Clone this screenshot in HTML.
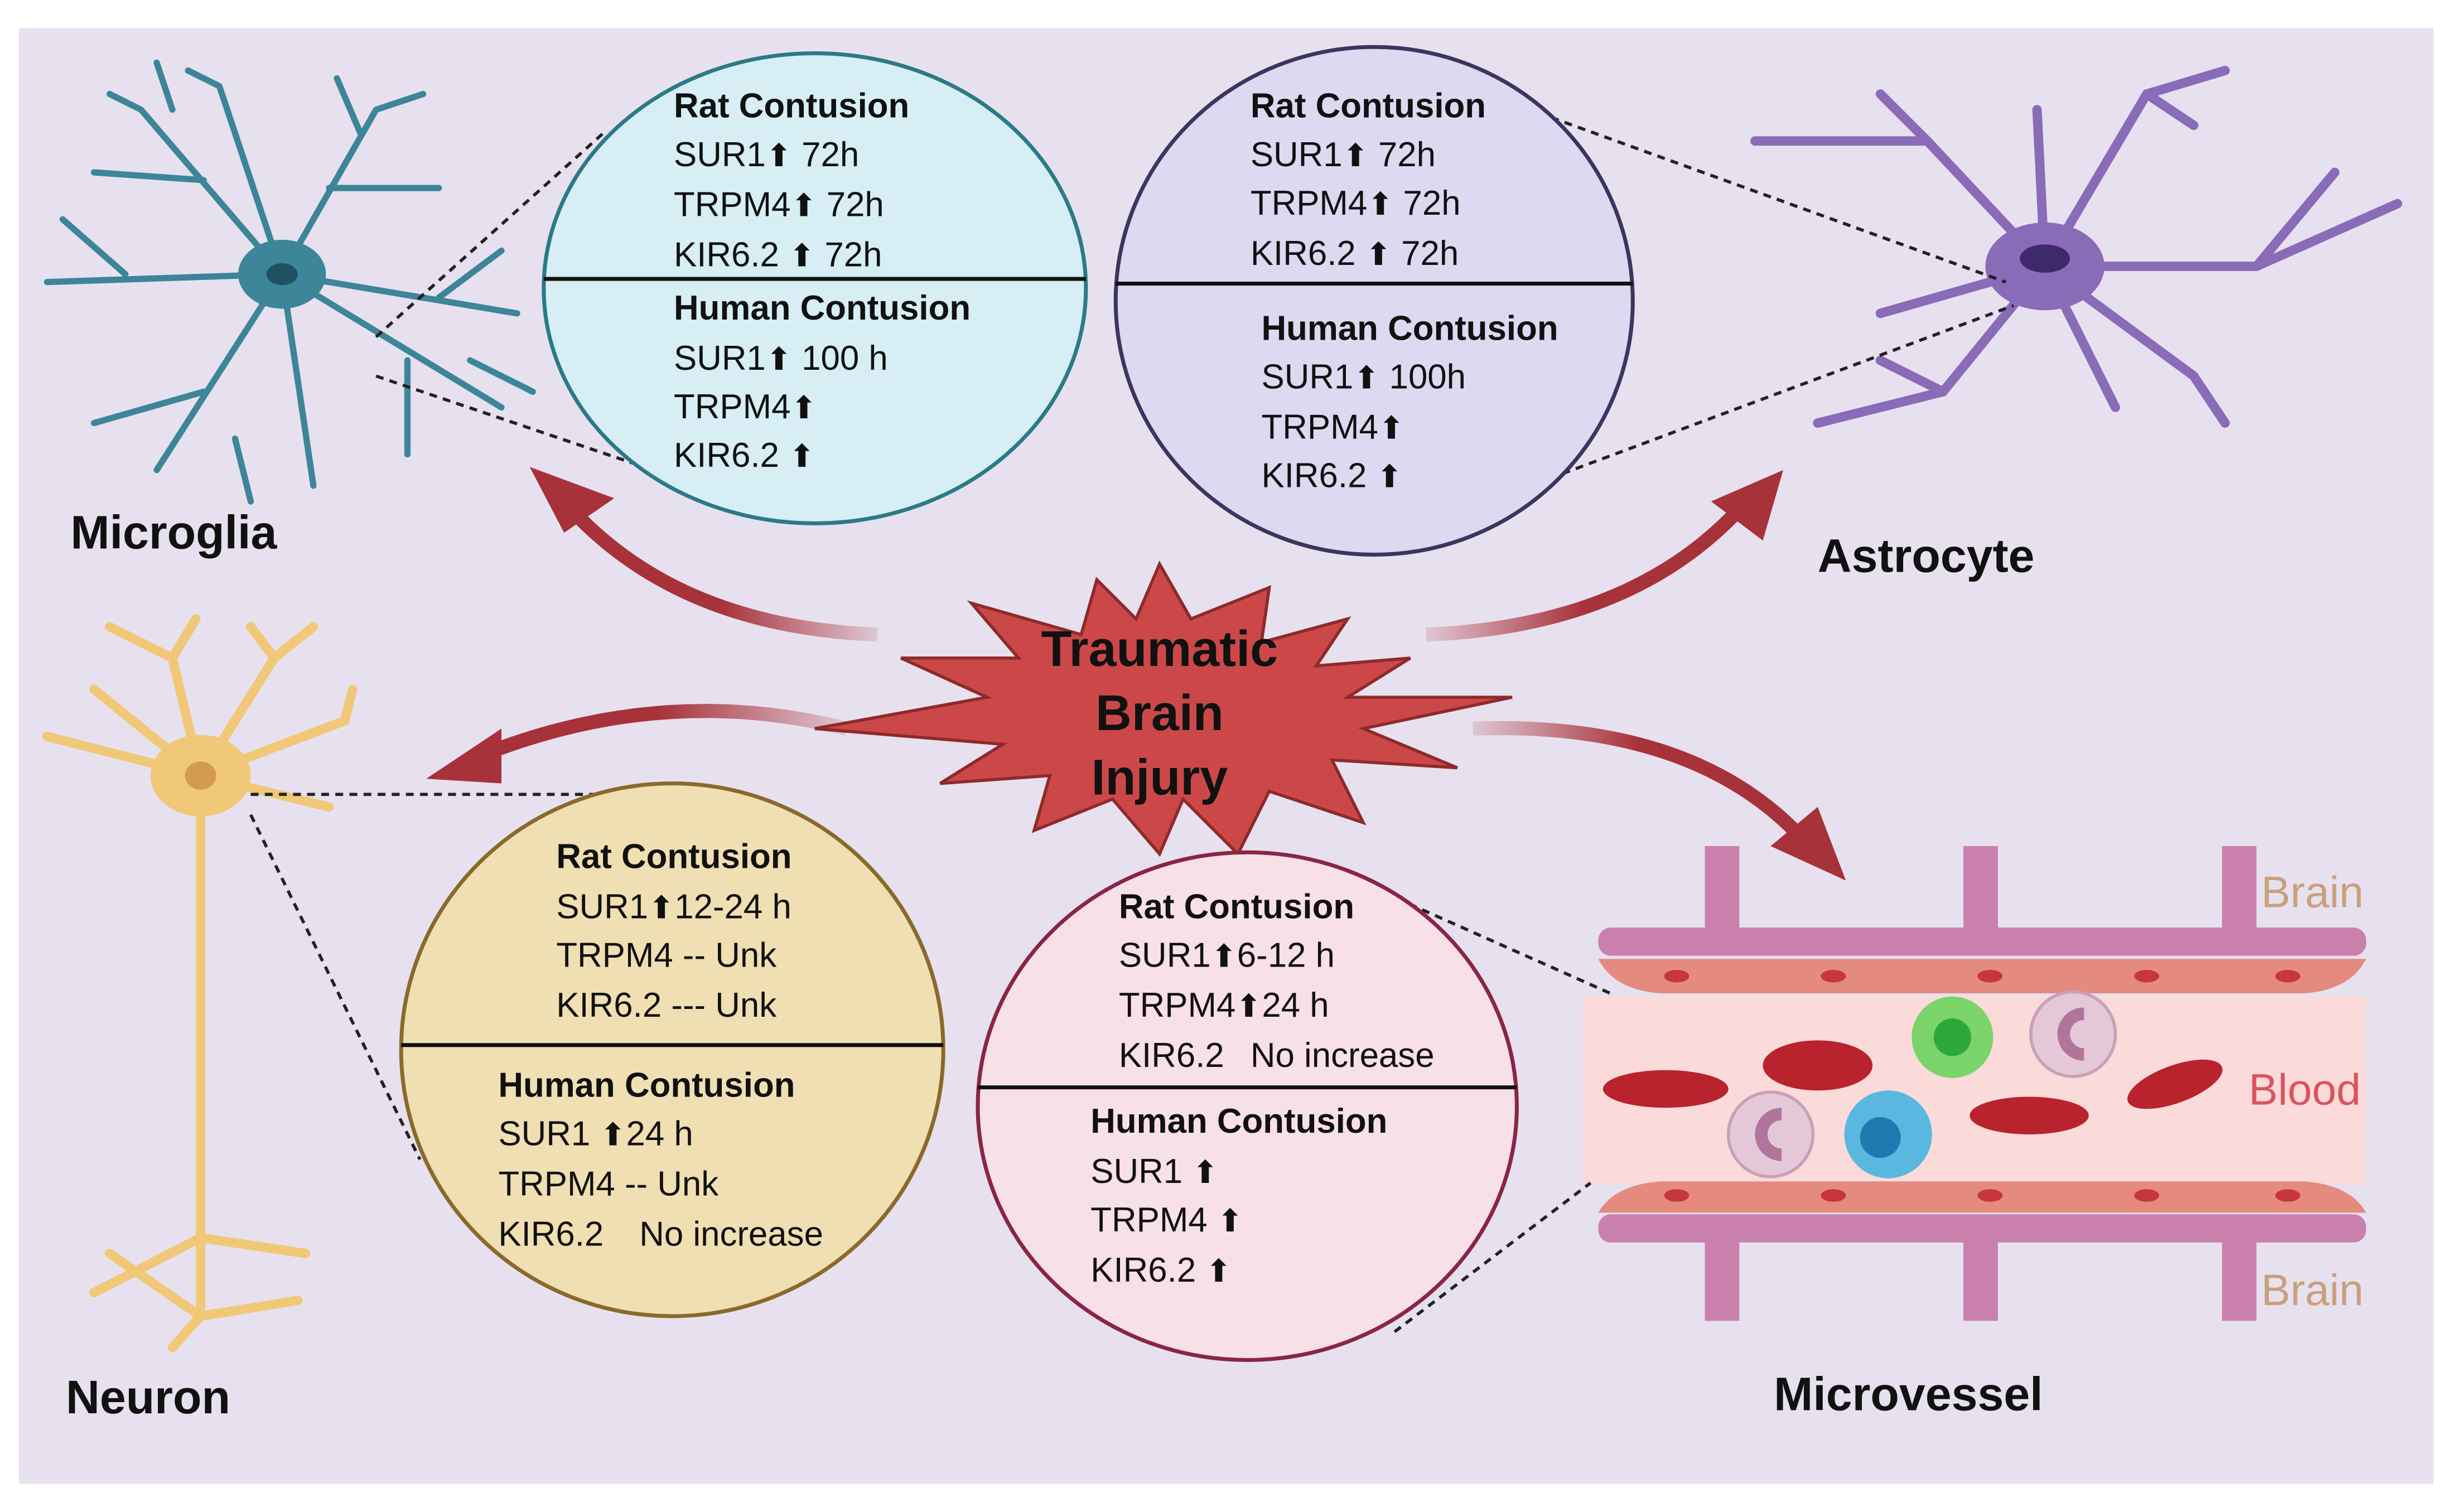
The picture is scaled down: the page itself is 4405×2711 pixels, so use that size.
<!DOCTYPE html>
<html><head><meta charset="utf-8"><style>
html,body{margin:0;padding:0;background:#fff;}
svg{display:block;}
text{font-family:"Liberation Sans",sans-serif;fill:#111;}
.t{font-size:22px;}
.h{font-size:22px;font-weight:bold;}
.lab{font-size:30px;font-weight:bold;}
.a{font-family:"DejaVu Sans",sans-serif;font-size:20px;}
</style></head><body>
<svg width="4405" height="2711" viewBox="0 0 1568 965" xmlns="http://www.w3.org/2000/svg">
<defs>
<linearGradient id="ga" x1="1" y1="0" x2="0" y2="0"><stop offset="0" stop-color="#a8323a" stop-opacity="0.15"/><stop offset="0.5" stop-color="#a8323a"/></linearGradient>
<linearGradient id="gb" x1="0" y1="0" x2="1" y2="0"><stop offset="0" stop-color="#a8323a" stop-opacity="0.15"/><stop offset="0.5" stop-color="#a8323a"/></linearGradient>
</defs>
<rect x="0" y="0" width="1568" height="965" fill="#fff"/>
<rect x="12" y="18" width="1541" height="929" fill="#e7e1ef"/>

<path d="M560 405 Q430 400 360 320" stroke="url(#ga)" stroke-width="9" fill="none"/>
<polygon points="338,298 392,318 360,340" fill="#a8323a"/>
<path d="M540 465 Q420 435 300 485" stroke="url(#ga)" stroke-width="9" fill="none"/>
<polygon points="272,497 320,465 320,500" fill="#a8323a"/>
<path d="M910 405 Q1040 400 1110 325" stroke="url(#gb)" stroke-width="9" fill="none"/>
<polygon points="1138,300 1125,345 1092,320" fill="#a8323a"/>
<path d="M940 465 Q1080 460 1150 535" stroke="url(#gb)" stroke-width="9" fill="none"/>
<polygon points="1178,562 1130,540 1160,515" fill="#a8323a"/>

<polygon points="740,360 760,395 810,375 805,410 860,395 840,425 900,420 860,445 965,445 870,465 930,490 850,485 870,525 810,505 790,545 755,510 740,545 710,510 660,530 670,495 600,500 640,475 520,465 630,445 575,420 650,420 620,385 690,405 700,370 725,395" fill="#cc4848" stroke="#8e2a2a" stroke-width="2"/>
<text x="740" y="425" text-anchor="middle" style="font-size:32px;font-weight:bold">Traumatic</text>
<text x="740" y="466" text-anchor="middle" style="font-size:32px;font-weight:bold">Brain</text>
<text x="740" y="507" text-anchor="middle" style="font-size:32px;font-weight:bold">Injury</text>

<g stroke="#3d8598" stroke-width="4" fill="none" stroke-linecap="round">
<path d="M180 175 L90 70 M130 115 L60 110 M90 70 L70 60 M180 175 L140 55 M140 55 L120 45 M180 175 L240 70 M240 70 L270 60 M210 120 L280 120 M180 175 L330 200 M280 190 L320 160 M180 175 L320 260 M260 230 L260 290 M180 175 L200 310 M180 175 L100 300 M130 250 L60 270 M180 175 L30 180 M80 175 L40 140 M110 70 L100 40 M230 85 L215 50 M300 230 L340 250 M150 280 L160 320"/>
</g>
<ellipse cx="180" cy="175" rx="28" ry="22" fill="#3d8598"/>
<ellipse cx="180" cy="175" rx="10" ry="7" fill="#1e5260"/>
<text x="45" y="350" class="lab">Microglia</text>
<path d="M240 215 L385 85 M240 240 L470 318" stroke="#222" stroke-width="2" stroke-dasharray="5,4"/>

<g stroke="#8a6bb8" stroke-width="6" fill="none" stroke-linecap="round">
<path d="M1305 170 L1230 90 L1200 60 M1230 90 L1120 90 M1305 170 L1300 70 M1305 170 L1370 60 L1420 45 M1370 60 L1400 80 M1305 170 L1440 170 L1530 130 M1440 170 L1490 110 M1305 170 L1400 240 L1420 270 M1305 170 L1350 260 M1305 170 L1240 250 L1160 270 M1240 250 L1200 230 M1305 170 L1200 200"/>
</g>
<ellipse cx="1305" cy="170" rx="38" ry="28" fill="#8a6bb8"/>
<ellipse cx="1305" cy="165" rx="16" ry="9" fill="#3e2a6a"/>
<text x="1160" y="365" class="lab">Astrocyte</text>
<path d="M990 75 L1280 180 M955 318 L1285 195" stroke="#222" stroke-width="2" stroke-dasharray="5,4"/>

<g stroke="#f0c878" stroke-width="6" fill="none" stroke-linecap="round">
<path d="M128 495 L128 840 M128 840 L70 800 M128 840 L190 830 M128 840 L110 860 M128 790 L60 825 M128 790 L195 800 M128 495 L110 420 L70 400 M110 420 L125 395 M128 495 L175 420 L200 400 M175 420 L160 400 M128 495 L30 470 M128 495 L60 440 M128 495 L220 460 L225 440 M128 495 L210 515"/>
</g>
<ellipse cx="128" cy="495" rx="32" ry="26" fill="#f0c878"/>
<ellipse cx="128" cy="495" rx="10" ry="9" fill="#d49a50"/>
<text x="42" y="902" class="lab">Neuron</text>
<path d="M160 507 L420 507 M160 520 L268 740" stroke="#222" stroke-width="2" stroke-dasharray="5,4"/>

<g fill="#c980ad">
<rect x="1088" y="540" width="22" height="60"/><rect x="1253" y="540" width="22" height="60"/><rect x="1418" y="540" width="22" height="60"/>
<rect x="1020" y="592" width="490" height="18" rx="8"/>
<rect x="1088" y="785" width="22" height="58"/><rect x="1253" y="785" width="22" height="58"/><rect x="1418" y="785" width="22" height="58"/>
<rect x="1020" y="775" width="490" height="18" rx="8"/>
</g>
<rect x="1010" y="636" width="500" height="120" fill="#fbdada"/>
<g fill="#e58a7f">
<path d="M1020 612 H1510 Q1500 632 1470 634 H1060 Q1030 632 1020 612Z"/>
<path d="M1020 774 H1510 Q1500 756 1470 754 H1060 Q1030 756 1020 774Z"/>
</g>
<g fill="#c7353e">
<ellipse cx="1070" cy="623" rx="8" ry="4"/><ellipse cx="1170" cy="623" rx="8" ry="4"/><ellipse cx="1270" cy="623" rx="8" ry="4"/><ellipse cx="1370" cy="623" rx="8" ry="4"/><ellipse cx="1460" cy="623" rx="8" ry="4"/>
<ellipse cx="1070" cy="763" rx="8" ry="4"/><ellipse cx="1170" cy="763" rx="8" ry="4"/><ellipse cx="1270" cy="763" rx="8" ry="4"/><ellipse cx="1370" cy="763" rx="8" ry="4"/><ellipse cx="1460" cy="763" rx="8" ry="4"/>
</g>
<g fill="#b8232e">
<ellipse cx="1063" cy="695" rx="40" ry="12"/><ellipse cx="1160" cy="680" rx="35" ry="16"/><ellipse cx="1295" cy="712" rx="38" ry="12"/><ellipse cx="1388" cy="692" rx="32" ry="12" transform="rotate(-20 1388 692)"/>
</g>
<circle cx="1246" cy="662" r="26" fill="#7ad46a"/><circle cx="1246" cy="662" r="12" fill="#2ea83c"/>
<circle cx="1323" cy="660" r="27" fill="#e4c8d8" stroke="#c9a0b8" stroke-width="2"/><path d="M1330 647 a12 12 0 1 0 0 26" stroke="#b0759a" stroke-width="8" fill="none"/>
<circle cx="1130" cy="724" r="27" fill="#e4c8d8" stroke="#c9a0b8" stroke-width="2"/><path d="M1137 711 a12 12 0 1 0 0 26" stroke="#b0759a" stroke-width="8" fill="none"/>
<circle cx="1205" cy="724" r="28" fill="#5ab8e0"/><circle cx="1200" cy="726" r="13" fill="#1f78b0"/>
<text x="1443" y="579" style="font-size:28px;fill:#c9a07a">Brain</text>
<text x="1435" y="705" style="font-size:28px;fill:#d9555f">Blood</text>
<text x="1443" y="833" style="font-size:28px;fill:#c9a07a">Brain</text>
<text x="1132" y="900" class="lab">Microvessel</text>
<path d="M850 555 L1030 635 M890 850 L1015 755" stroke="#222" stroke-width="2" stroke-dasharray="5,4"/>

<ellipse cx="520" cy="184" rx="173" ry="150" fill="#d6eef4" stroke="#2b7a86" stroke-width="2.5"/>
<line x1="347" y1="178" x2="693" y2="178" stroke="#111" stroke-width="2.5"/>
<text x="430" y="75" class="h">Rat Contusion</text>
<text x="430" y="106" class="t">SUR1<tspan class="a">⬆</tspan> 72h</text>
<text x="430" y="138" class="t">TRPM4<tspan class="a">⬆</tspan> 72h</text>
<text x="430" y="170" class="t">KIR6.2 <tspan class="a">⬆</tspan>  72h</text>
<text x="430" y="204" class="h">Human Contusion</text>
<text x="430" y="236" class="t">SUR1<tspan class="a">⬆</tspan> 100 h</text>
<text x="430" y="267" class="t">TRPM4<tspan class="a">⬆</tspan></text>
<text x="430" y="298" class="t">KIR6.2 <tspan class="a">⬆</tspan></text>

<ellipse cx="877" cy="192" rx="165" ry="162" fill="#dcd9f0" stroke="#3c3560" stroke-width="2.5"/>
<line x1="712" y1="181" x2="1042" y2="181" stroke="#111" stroke-width="2.5"/>
<text x="798" y="75" class="h">Rat Contusion</text>
<text x="798" y="106" class="t">SUR1<tspan class="a">⬆</tspan> 72h</text>
<text x="798" y="137" class="t">TRPM4<tspan class="a">⬆</tspan> 72h</text>
<text x="798" y="169" class="t">KIR6.2 <tspan class="a">⬆</tspan> 72h</text>
<text x="805" y="217" class="h">Human Contusion</text>
<text x="805" y="248" class="t">SUR1<tspan class="a">⬆</tspan> 100h</text>
<text x="805" y="280" class="t">TRPM4<tspan class="a">⬆</tspan></text>
<text x="805" y="311" class="t">KIR6.2 <tspan class="a">⬆</tspan></text>

<ellipse cx="429" cy="670" rx="173" ry="170" fill="#efdfb2" stroke="#8a6a2a" stroke-width="2.5"/>
<line x1="256" y1="667" x2="602" y2="667" stroke="#111" stroke-width="2.5"/>
<text x="355" y="554" class="h">Rat Contusion</text>
<text x="355" y="586" class="t">SUR1<tspan class="a">⬆</tspan>12-24 h</text>
<text x="355" y="617" class="t">TRPM4 -- Unk</text>
<text x="355" y="649" class="t">KIR6.2 --- Unk</text>
<text x="318" y="700" class="h">Human  Contusion</text>
<text x="318" y="731" class="t">SUR1 <tspan class="a">⬆</tspan>24 h</text>
<text x="318" y="763" class="t">TRPM4 -- Unk</text>
<text x="318" y="795" class="t">KIR6.2 <tspan x="408">No increase</tspan></text>

<ellipse cx="796" cy="706" rx="172" ry="162" fill="#f7e0e7" stroke="#8a2545" stroke-width="2.5"/>
<line x1="624" y1="694" x2="968" y2="694" stroke="#111" stroke-width="2.5"/>
<text x="714" y="586" class="h">Rat Contusion</text>
<text x="714" y="617" class="t">SUR1<tspan class="a">⬆</tspan>6-12 h</text>
<text x="714" y="649" class="t">TRPM4<tspan class="a">⬆</tspan>24 h</text>
<text x="714" y="681" class="t">KIR6.2 <tspan x="798">No increase</tspan></text>
<text x="696" y="723" class="h">Human  Contusion</text>
<text x="696" y="755" class="t">SUR1 <tspan class="a">⬆</tspan></text>
<text x="696" y="786" class="t">TRPM4 <tspan class="a">⬆</tspan></text>
<text x="696" y="818" class="t">KIR6.2 <tspan class="a">⬆</tspan></text>
</svg>
</body></html>
